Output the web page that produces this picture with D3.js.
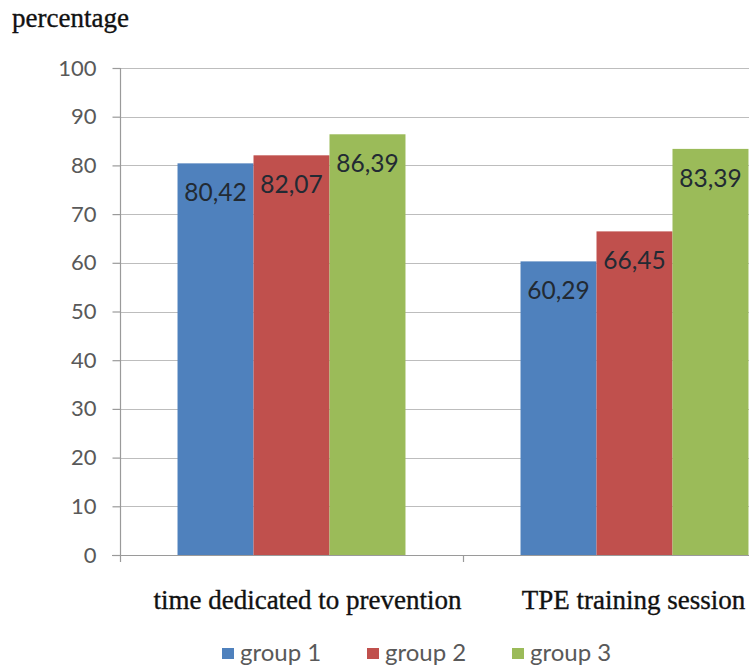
<!DOCTYPE html>
<html>
<head>
<meta charset="utf-8">
<script src="https://cdn.jsdelivr.net/npm/d3@7"></script>
<style>
  html, body { margin: 0; padding: 0; background: #ffffff; }
  svg { display: block; }
</style>
</head>
<body>
<svg id="chart" width="749" height="668"></svg>
<script>
// Chart data
const categories = ["time dedicated to prevention", "TPE training session"];
const groups = ["group 1", "group 2", "group 3"];
const group1 = [80.42, 60.29];
const group2 = [82.07, 66.45];
const group3 = [86.39, 83.39];
const yTicks = [0, 10, 20, 30, 40, 50, 60, 70, 80, 90, 100];
const colors = ["#4f81bd", "#c0504d", "#9bbb59"];

const seriesValues = [group1, group2, group3];
const rows = categories.map((c, i) => ({
  category: c,
  values: groups.map((g, j) => ({ group: g, value: seriesValues[j][i], idx: j }))
}));

const W = 749, H = 668;
const svg = d3.select("#chart");

const plotLeft = 120, plotRight = 806, plotTop = 68, plotBottom = 555;

const y = d3.scaleLinear().domain([0, 100]).range([plotBottom, plotTop]);
const x0 = d3.scaleBand().domain(categories).range([plotLeft, plotRight]).paddingInner(0).paddingOuter(0);
const x1 = d3.scaleBand().domain(groups).range([0, x0.bandwidth()]).paddingInner(0).paddingOuter(0.757);
const color = d3.scaleOrdinal().domain(groups).range(colors);

svg.append("defs").append("clipPath").attr("id", "clip")
  .append("rect").attr("x", 0).attr("y", 0).attr("width", W).attr("height", H);

const g = svg.append("g").attr("clip-path", "url(#clip)");

// Horizontal gridlines
g.append("g").selectAll("line").data(yTicks.filter(t => t > 0)).join("line")
  .attr("x1", plotLeft).attr("x2", W)
  .attr("y1", d => Math.round(y(d)) + 0.5).attr("y2", d => Math.round(y(d)) + 0.5)
  .attr("stroke", "#bdbdbd").attr("stroke-width", 1.2);

// Y axis with ticks and labels
const yAxis = d3.axisLeft(y).tickValues(yTicks).tickSize(8).tickPadding(16).tickFormat(d3.format("d"));
const ya = g.append("g").attr("transform", `translate(${plotLeft + 0.5},0)`).call(yAxis);
ya.select(".domain").attr("stroke", "#9a9a9a").attr("stroke-width", 1.2)
  .attr("d", `M0,${plotTop}V${plotBottom + 7}`);
ya.selectAll(".tick line").attr("stroke", "#9a9a9a").attr("stroke-width", 1.2);
ya.selectAll(".tick text")
  .attr("fill", "#595959")
  .style("font-family", "Lato, 'Open Sans', sans-serif")
  .style("font-size", "22px");

// Bars
const catG = g.append("g").selectAll("g").data(rows).join("g")
  .attr("transform", d => `translate(${x0(d.category)},0)`);

catG.selectAll("rect").data(d => d.values).join("rect")
  .attr("x", d => x1(d.group))
  .attr("y", d => y(d.value))
  .attr("width", x1.bandwidth())
  .attr("height", d => y(0) - y(d.value))
  .attr("fill", d => color(d.group));

// Value labels inside bar tops
catG.selectAll("text.val").data(d => d.values).join("text")
  .attr("class", "val")
  .attr("x", d => x1(d.group) + x1.bandwidth() / 2)
  .attr("y", d => y(d.value) + 38)
  .attr("text-anchor", "middle")
  .attr("fill", "#222a33")
  .style("font-family", "Lato, 'Open Sans', sans-serif")
  .style("font-size", "24.5px")
  .text(d => d3.format(".2f")(d.value).replace(".", ","));

// X axis baseline and category separators
const xa = g.append("g");
xa.append("line")
  .attr("x1", plotLeft - 8).attr("x2", W)
  .attr("y1", plotBottom + 0.5).attr("y2", plotBottom + 0.5)
  .attr("stroke", "#9a9a9a").attr("stroke-width", 1.2);
xa.selectAll("line.sep").data(categories.slice(1)).join("line")
  .attr("class", "sep")
  .attr("x1", d => x0(d) + 0.5).attr("x2", d => x0(d) + 0.5)
  .attr("y1", plotBottom).attr("y2", plotBottom + 7)
  .attr("stroke", "#9a9a9a").attr("stroke-width", 1.2);

// Category labels
xa.selectAll("text.cat").data(categories).join("text")
  .attr("class", "cat")
  .attr("x", (d, i) => x0(d) + x0.bandwidth() / 2 + (i === 0 ? 16 : -1))
  .attr("y", 609)
  .attr("text-anchor", "middle")
  .attr("fill", "#111")
  .attr("stroke", "#111").attr("stroke-width", 0.35)
  .style("font-family", "'Liberation Serif', 'DejaVu Serif', serif")
  .style("font-size", "27px")
  .text(d => d);

// Y axis title
svg.append("text")
  .attr("x", 12).attr("y", 27)
  .attr("fill", "#111")
  .attr("stroke", "#111").attr("stroke-width", 0.35)
  .style("font-family", "'Liberation Serif', 'DejaVu Serif', serif")
  .style("font-size", "27px")
  .text("percentage");

// Legend
const legendX = [222, 367, 512];
const leg = svg.append("g").selectAll("g").data(groups).join("g")
  .attr("transform", (d, i) => `translate(${legendX[i]},0)`);
leg.append("rect").attr("x", 0).attr("y", 648).attr("width", 12).attr("height", 11)
  .attr("fill", d => color(d));
leg.append("text").attr("x", 18).attr("y", 661)
  .attr("fill", "#595959")
  .style("font-family", "Lato, 'Open Sans', sans-serif")
  .style("font-size", "24px")
  .text(d => d);
</script>
</body>
</html>
